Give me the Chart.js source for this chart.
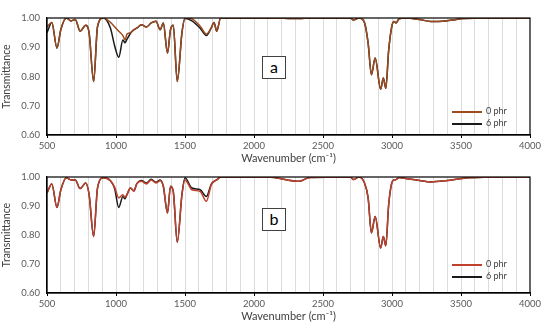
<!DOCTYPE html>
<html>
<head>
<meta charset="utf-8">
<script src="https://cdn.jsdelivr.net/npm/chart.js@4.4.1/dist/chart.umd.min.js"></script>
<style>
  body { margin: 0; background: #fff; }
  #wrap { position: relative; width: 550px; height: 330px; font-family: Lato, "Open Sans", sans-serif; }
  .panel { position: absolute; left: 0; width: 550px; height: 165px; }
  .tag { position: absolute; width: 22px; height: 21px; border: 1px solid #404040; background: #fff;
         font-size: 16px; font-weight: 400; line-height: 20px; text-align: center; color: #000; }
  .leg { position: absolute; left: 452px; width: 80px; font-size: 9px; color: #404040; white-space: nowrap; }
  .leg div { height: 12px; position: relative; }
  .leg span.ln { display: block; position: absolute; left: 0; top: 5px; width: 30px; height: 2px; }
  .leg span.tx { display: block; position: absolute; left: 34px; top: -1px; }
</style>
</head>
<body>
<div id="wrap">
  <div class="panel" style="top:0"><canvas id="chartA"></canvas></div>
  <div class="panel" style="top:165px"><canvas id="chartB"></canvas></div>
  <div class="tag" style="left:262px;top:56px">a</div>
  <div class="tag" style="left:262px;top:208px">b</div>
  <div class="leg" style="top:106px">
    <div><span class="ln" style="background:#9C4A1E"></span><span class="tx">0 phr</span></div>
    <div><span class="ln" style="background:#1a1a1a"></span><span class="tx">6 phr</span></div>
  </div>
  <div class="leg" style="top:259px">
    <div><span class="ln" style="background:#C0412B"></span><span class="tx">0 phr</span></div>
    <div><span class="ln" style="background:#1a1a1a"></span><span class="tx">6 phr</span></div>
  </div>
</div>
<script>
// wavenumber grid (cm-1)
const wavenumbers = [500, 535, 572, 600, 640, 675, 705, 740, 780, 805, 838, 866, 908, 960, 990,
  1020, 1050, 1065, 1080, 1105, 1130, 1150, 1185, 1220, 1255, 1290, 1320, 1343, 1373, 1395,
  1415, 1444, 1478, 1500, 1550, 1610, 1655, 1690, 1710, 1730, 1758, 1900, 2100, 2330, 2400,
  2700, 2720, 2760, 2800, 2827, 2851, 2878, 2918, 2937, 2955, 2976, 2998, 3015, 3030, 3050,
  3100, 3200, 3280, 3400, 3520, 3700, 4000];

// panel a
const a0phr = [0.970, 0.985, 0.897, 0.960, 1.000, 0.990, 0.995, 0.955, 0.975, 0.950, 0.783, 0.970, 1.000, 0.985, 0.970,
  0.955, 0.940, 0.925, 0.945, 0.950, 0.960, 0.965, 0.977, 0.969, 0.983, 0.989, 0.960, 0.983, 0.880, 0.960,
  0.975, 0.783, 0.950, 1.000, 0.997, 0.972, 0.945, 0.966, 0.985, 0.955, 1.000, 1.000, 1.000, 0.998, 1.000,
  1.000, 0.993, 1.000, 0.985, 0.914, 0.806, 0.863, 0.757, 0.795, 0.760, 0.890, 0.970, 0.988, 0.983, 0.997,
  1.000, 0.995, 0.988, 0.991, 0.998, 1.000, 1.000];
const a6phr = [0.950, 0.985, 0.897, 0.960, 1.000, 0.990, 0.995, 0.955, 0.975, 0.950, 0.783, 0.970, 1.000, 0.965, 0.905,
  0.866, 0.925, 0.915, 0.928, 0.948, 0.960, 0.965, 0.977, 0.969, 0.983, 0.989, 0.960, 0.983, 0.880, 0.960,
  0.975, 0.783, 0.950, 0.998, 0.990, 0.965, 0.940, 0.966, 0.985, 0.955, 1.000, 1.000, 1.000, 0.998, 1.000,
  1.000, 0.993, 1.000, 0.985, 0.914, 0.806, 0.863, 0.757, 0.795, 0.760, 0.890, 0.970, 0.988, 0.983, 0.997,
  1.000, 0.995, 0.988, 0.991, 0.998, 1.000, 1.000];

// panel b
const b0phr = [0.945, 0.976, 0.895, 0.955, 0.997, 0.990, 0.990, 0.960, 0.979, 0.940, 0.795, 0.962, 0.997, 0.987, 0.965,
  0.928, 0.939, 0.930, 0.940, 0.962, 0.952, 0.976, 0.985, 0.976, 0.990, 0.979, 0.987, 0.968, 0.876, 0.968,
  0.950, 0.775, 0.940, 0.990, 0.956, 0.950, 0.916, 0.972, 0.985, 0.990, 1.000, 1.000, 1.000, 0.985, 0.998,
  1.000, 0.991, 1.000, 0.980, 0.928, 0.807, 0.864, 0.755, 0.795, 0.763, 0.905, 0.979, 0.990, 0.991, 0.998,
  0.995, 0.988, 0.983, 0.988, 0.996, 0.999, 1.000];
const b6phr = [0.945, 0.976, 0.895, 0.955, 0.997, 0.990, 0.990, 0.960, 0.979, 0.940, 0.795, 0.962, 0.997, 0.987, 0.960,
  0.895, 0.933, 0.925, 0.940, 0.962, 0.952, 0.976, 0.988, 0.979, 0.992, 0.982, 0.990, 0.968, 0.876, 0.968,
  0.950, 0.775, 0.940, 0.997, 0.962, 0.956, 0.933, 0.975, 0.985, 0.990, 1.000, 1.000, 1.000, 0.985, 0.998,
  1.000, 0.991, 1.000, 0.980, 0.928, 0.807, 0.864, 0.755, 0.795, 0.763, 0.905, 0.979, 0.990, 0.991, 0.998,
  0.995, 0.988, 0.983, 0.988, 0.996, 0.999, 1.000];

const yTicks = [0.6, 0.7, 0.8, 0.9, 1.0];

const frame = {
  id: "frame",
  afterDatasetsDraw(chart) {
    const { ctx, chartArea: a } = chart;
    ctx.save();
    ctx.strokeStyle = "#000";
    ctx.lineWidth = 1.2;
    ctx.strokeRect(a.left, a.top, a.right - a.left, a.bottom - a.top);
    ctx.restore();
  }
};

function pts(vals) {
  return wavenumbers.map((w, i) => ({ x: w, y: vals[i] }));
}

function buildChart(id, series0, series6, color0, padTop, padBottom) {
  new Chart(document.getElementById(id), {
    type: "line",
    data: {
      datasets: [
        { label: "0 phr", data: pts(series0), borderColor: color0, borderWidth: 1.5 },
        { label: "6 phr", data: pts(series6), borderColor: "#1a1a1a", borderWidth: 1.5 }
      ]
    },
    options: {
      responsive: false,
      animation: false,
      events: [],
      layout: { padding: { top: padTop, right: 20, bottom: padBottom, left: 0 } },
      elements: { point: { radius: 0 }, line: { cubicInterpolationMode: "monotone" } },
      plugins: { legend: { display: false }, tooltip: { enabled: false } },
      scales: {
        x: {
          type: "linear", min: 500, max: 4000,
          afterBuildTicks: s => { s.ticks = []; for (let v = 500; v <= 4000; v += 100) s.ticks.push({ value: v }); },
          afterFit: s => { s.height = 30; },
          ticks: {
            autoSkip: false, maxRotation: 0, padding: 2,
            color: "#595959", font: { family: "Lato", size: 9.5 },
            callback: v => (v % 500 === 0 ? v : "")
          },
          grid: {
            color: c => (c.tick && c.tick.value > 500 && c.tick.value < 4000 ? "#dcdcdc" : "transparent"),
            tickColor: c => (c.tick && c.tick.value % 500 === 0 ? "#000" : "transparent"),
            tickLength: 3, lineWidth: 1
          },
          border: { color: "#000", width: 1.2 },
          title: {
            display: true, text: "Wavenumber (cm\u207B\u00B9)", color: "#404040",
            font: { family: "Lato", size: 11 }, padding: { top: 1, bottom: 0 }
          }
        },
        y: {
          min: 0.6, max: 1.0,
          afterBuildTicks: s => { s.ticks = yTicks.map(v => ({ value: v })); },
          afterFit: s => { s.width = 47; },
          ticks: { color: "#595959", font: { family: "Lato", size: 9.5 }, padding: 4, callback: v => v.toFixed(2) },
          grid: { display: false, tickLength: 3 },
          border: { color: "#000", width: 1.2 },
          title: {
            display: true, text: "Transmittance", color: "#404040",
            font: { family: "Lato", size: 10.5 }, padding: { top: 0, bottom: 2 }
          }
        }
      }
    },
    plugins: [frame]
  });
}

for (const id of ["chartA", "chartB"]) {
  const c = document.getElementById(id);
  c.width = 550; c.height = 165;
}

buildChart("chartA", a0phr, a6phr, "#9C4A1E", 18, 0);
buildChart("chartB", b0phr, b6phr, "#C0412B", 12, 7);
</script>
</body>
</html>
